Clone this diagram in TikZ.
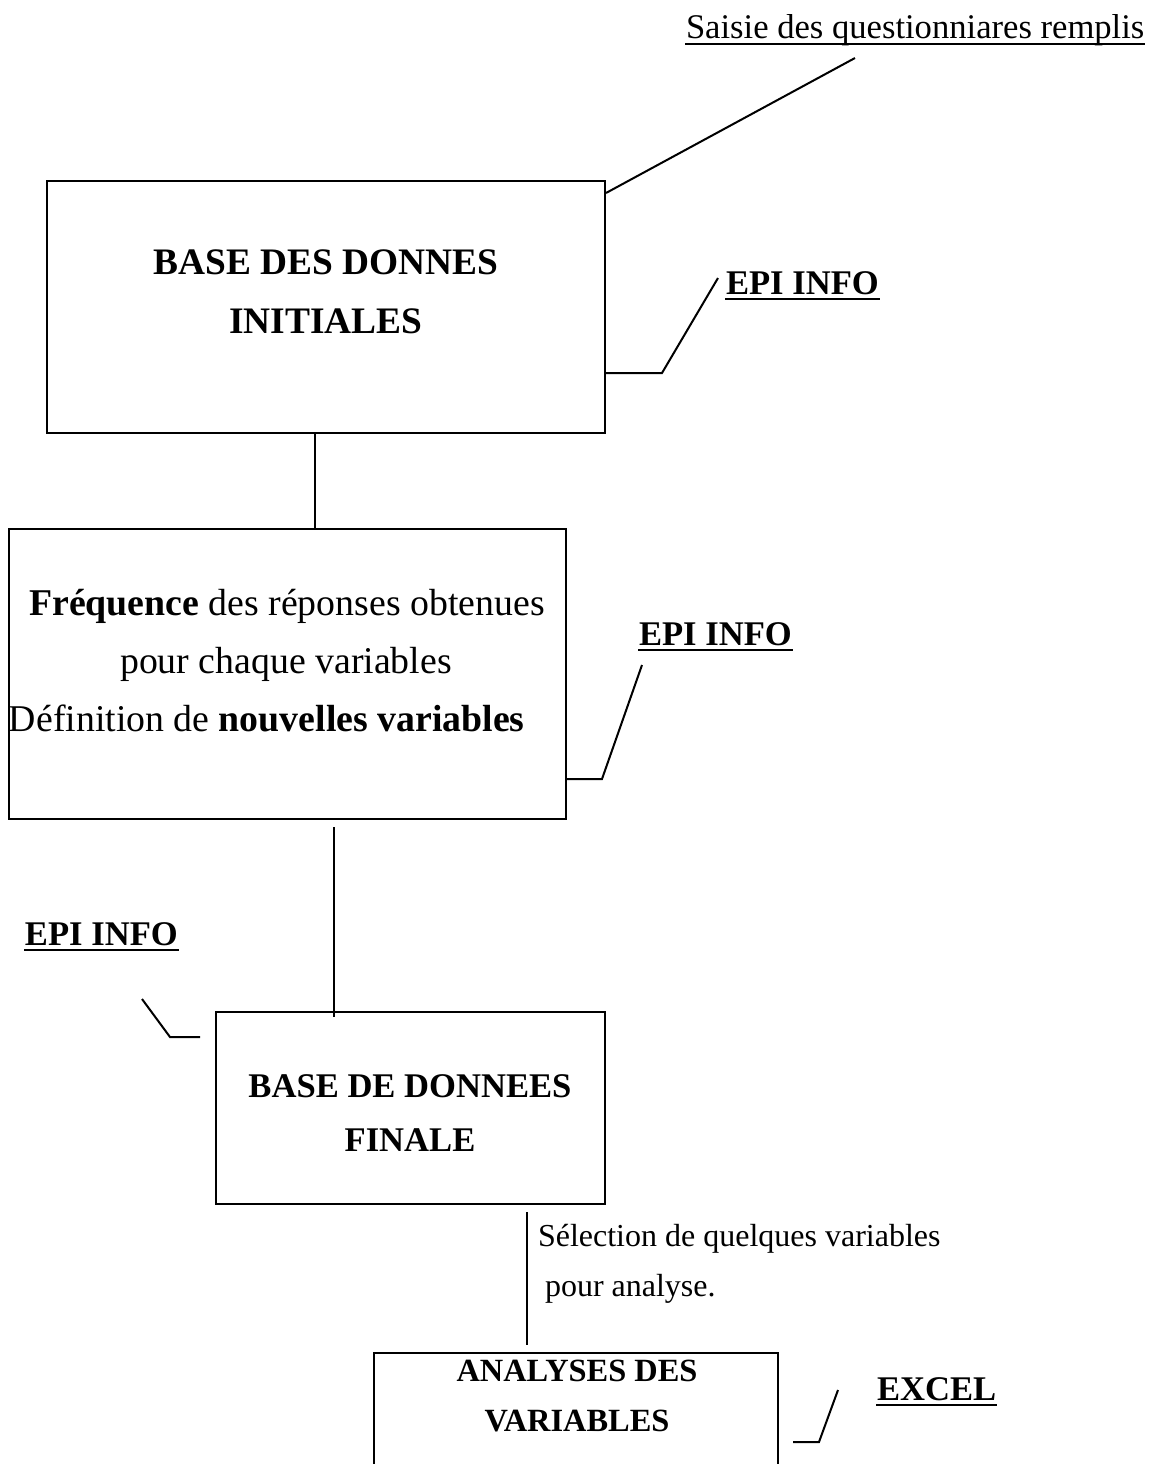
\documentclass[tikz,border=0pt]{standalone}
\usepackage{fontspec}
\setmainfont{Liberation Serif}
\begin{document}
\begin{tikzpicture}[x=0.5pt,y=-0.5pt,line width=1pt,
  txt/.style={inner sep=0pt,font=\fontsize{17.3}{20}\selectfont},
  boxtxt/.style={inner sep=0pt,font=\fontsize{18.9}{22}\selectfont},
  btxt/.style={inner sep=0pt,font=\fontsize{17.3}{20}\selectfont\bfseries},
  bigb/.style={inner sep=0pt,font=\fontsize{18.7}{20}\selectfont\bfseries},
  smallb/.style={inner sep=0pt,font=\fontsize{16.2}{18}\selectfont\bfseries},
  seltxt/.style={inner sep=0pt,font=\fontsize{16}{18}\selectfont},
  boxshape/.style={draw,line width=1pt,inner sep=0pt,anchor=north west},
  uline/.style={line width=1pt}]
\useasboundingbox (0,0) rectangle (1158,1464);
\clip (0,0) rectangle (1158,1464);
\fill[white] (0,0) rectangle (1158,1464);

% boxes
\node[boxshape,minimum width=279pt,minimum height=126pt] (box1) at (46,180) {};
\node[boxshape,minimum width=278.5pt,minimum height=145pt] (box2) at (8,528) {};
\node[boxshape,minimum width=194.5pt,minimum height=96pt] (box3) at (215,1011) {};
\node[boxshape,minimum width=202pt,minimum height=64pt] (box4) at (373,1352) {};

% box texts
\node[bigb,anchor=base] (b1a) at (326,274) {BASE DES DONNES};
\node[bigb,anchor=base] (b1b) at (326,333) {INITIALES};

\node[boxtxt,anchor=base] (b2a) at (287,615) {\textbf{Fréquence} des réponses obtenues};
\node[boxtxt,anchor=base] (b2b) at (286,673) {pour chaque variables};
\node[boxtxt,anchor=base west] (b2c) at (8,731) {Définition de \textbf{nouvelles variables}};

\node[btxt,anchor=base] (b3a) at (410,1097) {BASE DE DONNEES};
\node[btxt,anchor=base] (b3b) at (410,1151) {FINALE};

\node[smallb,anchor=base] (b4a) at (577,1381) {ANALYSES DES};
\node[smallb,anchor=base] (b4b) at (577,1431) {VARIABLES};

% labels
\node[txt,anchor=base west] (saisie) at (685,38) {Saisie des questionniares remplis};
\draw[uline] ([yshift=-3pt]saisie.base west) -- ([yshift=-3pt]saisie.base east);

\node[btxt,anchor=base west] (epi1) at (725,294) {EPI INFO};
\draw[uline] ([yshift=-2.5pt]epi1.base west) -- ([yshift=-2.5pt]epi1.base east);
\node[btxt,anchor=base west] (epi2) at (638,645) {EPI INFO};
\draw[uline] ([yshift=-2.5pt]epi2.base west) -- ([yshift=-2.5pt]epi2.base east);
\node[btxt,anchor=base west] (epi3) at (24,945) {EPI INFO};
\draw[uline] ([yshift=-2.5pt]epi3.base west) -- ([yshift=-2.5pt]epi3.base east);
\node[btxt,anchor=base west] (excel) at (876,1400) {EXCEL};
\draw[uline] ([yshift=-2.5pt]excel.base west) -- ([yshift=-2.5pt]excel.base east);

\node[seltxt,anchor=base west] (sel1) at (537,1246) {Sélection de quelques variables};
\node[seltxt,anchor=base west] (sel2) at (544,1296) {pour analyse.};

% leader lines
\coordinate (s1) at (855,58);
\draw (box1.east |- 0,193) -- (s1);
\coordinate (e1) at (718,278);
\draw (box1.east |- 0,373) -- (662,373) -- (e1);
\coordinate (e2) at (642,665);
\draw (box2.east |- 0,779) ++(-2,0) -- (602,779) -- (e2);
\coordinate (e3) at (142,999);
\coordinate (e3b) at (200,1037);
\draw (e3) -- (170,1037) -- (e3b);
\coordinate (ex1) at (793,1442);
\coordinate (ex2) at (838,1390);
\draw (ex1) -- (819,1442) -- (ex2);

% connectors
\draw (315,0 |- box1.south) -- (315,0 |- box2.north);
\draw (334,0 |- box2.south) ++(0,7) -- (334,1017);
\draw (527,0 |- box3.south) ++(0,7) -- (527,1345);
\end{tikzpicture}
\end{document}
